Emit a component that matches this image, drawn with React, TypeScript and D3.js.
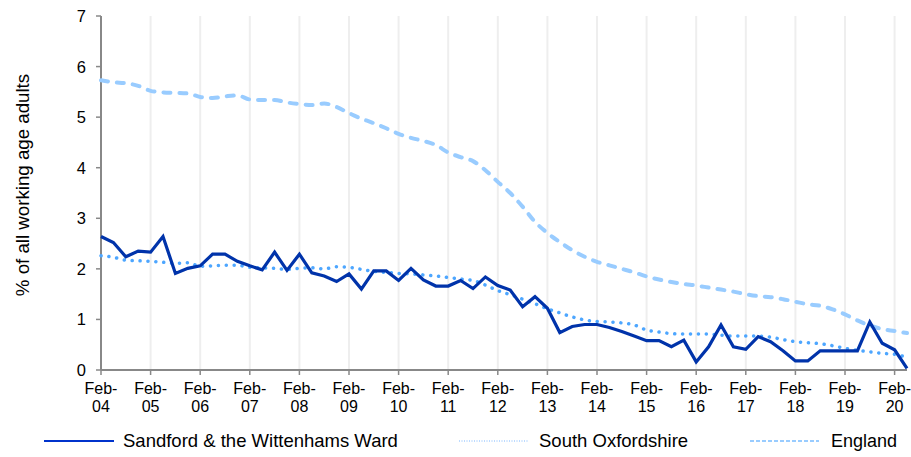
import React from "react";
import * as d3 from "d3";

const years = ["04","05","06","07","08","09","10","11","12","13","14","15","16","17","18","19","20"];
const yTicks = [0, 1, 2, 3, 4, 5, 6, 7];

const sandford = [2.64, 2.52, 2.24, 2.35, 2.33, 2.64, 1.91, 2.01, 2.06, 2.29, 2.29, 2.15, 2.06, 1.98, 2.33, 1.97, 2.29, 1.92, 1.86, 1.75, 1.90, 1.60, 1.96, 1.96, 1.77, 2.01, 1.78, 1.66, 1.66, 1.77, 1.61, 1.84, 1.67, 1.58, 1.25, 1.45, 1.22, 0.74, 0.86, 0.90, 0.90, 0.84, 0.76, 0.67, 0.58, 0.58, 0.46, 0.59, 0.16, 0.46, 0.89, 0.46, 0.41, 0.66, 0.56, 0.38, 0.18, 0.18, 0.38, 0.38, 0.38, 0.38, 0.95, 0.53, 0.40, 0.03];

const southOxfordshire = [2.26, 2.23, 2.17, 2.16, 2.15, 2.13, 2.11, 2.12, 2.05, 2.06, 2.07, 2.07, 2.03, 2.02, 2.01, 1.99, 2.01, 2.02, 2.00, 2.04, 2.03, 1.99, 1.95, 1.93, 1.91, 1.90, 1.88, 1.86, 1.83, 1.80, 1.77, 1.68, 1.57, 1.49, 1.40, 1.31, 1.21, 1.13, 1.05, 0.99, 0.96, 0.95, 0.93, 0.89, 0.79, 0.75, 0.72, 0.71, 0.71, 0.71, 0.69, 0.67, 0.67, 0.67, 0.65, 0.60, 0.56, 0.54, 0.52, 0.48, 0.43, 0.39, 0.36, 0.33, 0.31, 0.25];

const england = [5.73, 5.69, 5.67, 5.62, 5.52, 5.49, 5.48, 5.47, 5.40, 5.38, 5.41, 5.43, 5.35, 5.34, 5.34, 5.29, 5.26, 5.24, 5.27, 5.20, 5.08, 4.97, 4.88, 4.78, 4.67, 4.59, 4.53, 4.45, 4.30, 4.21, 4.13, 3.95, 3.72, 3.50, 3.23, 2.93, 2.71, 2.53, 2.37, 2.24, 2.14, 2.07, 2.00, 1.93, 1.85, 1.79, 1.74, 1.70, 1.67, 1.63, 1.59, 1.55, 1.50, 1.46, 1.44, 1.40, 1.35, 1.30, 1.27, 1.20, 1.10, 0.98, 0.88, 0.81, 0.77, 0.73];

const legendLabels = ["Sandford & the Wittenhams Ward", "South Oxfordshire", "England"];

const W = 911;
const H = 457;
const FONT = "'Liberation Sans', Arial, sans-serif";

export default function App() {
  const n = sandford.length;
  const x = d3.scaleLinear().domain([0, n - 1]).range([101, 907]);
  const y = d3.scaleLinear().domain([0, 7]).range([370, 16]);

  const linear = d3.line<number>().x((_, i) => x(i)).y((d) => y(d)).curve(d3.curveLinear);
  const smooth = d3.line<number>().x((_, i) => x(i)).y((d) => y(d)).curve(d3.curveMonotoneX);

  const axisColor = "#888888";

  return (
    <svg width={W} height={H} style={{ position: "absolute", left: 0, top: 0, background: "#fff" }} fontFamily={FONT}>
      {years.map((yr, k) => (
        <line key={"g" + yr} x1={x(k * 4)} x2={x(k * 4)} y1={y(7)} y2={y(0)} stroke="#eeeeee" strokeWidth={2} />
      ))}
      <line x1={101} x2={101} y1={y(7)} y2={y(0)} stroke={axisColor} strokeWidth={2} />
      {yTicks.map((t) => (
        <g key={"yt" + t}>
          <line x1={96} x2={101} y1={y(t)} y2={y(t)} stroke={axisColor} strokeWidth={1.5} />
          <text x={86} y={y(t)} dy="0.36em" textAnchor="end" fontSize={16.5} fill="#000">{t}</text>
        </g>
      ))}
      <line x1={101} x2={907} y1={y(0)} y2={y(0)} stroke={axisColor} strokeWidth={2} />
      {years.map((yr, k) => (
        <g key={"xt" + yr}>
          <line x1={x(k * 4)} x2={x(k * 4)} y1={y(0)} y2={y(0) + 5} stroke={axisColor} strokeWidth={1.5} />
          <text x={x(k * 4)} y={394} textAnchor="middle" fontSize={16} fill="#000">Feb-</text>
          <text x={x(k * 4)} y={412} textAnchor="middle" fontSize={16} fill="#000">{yr}</text>
        </g>
      ))}
      <text transform="translate(29,185) rotate(-90)" textAnchor="middle" fontSize={18.7} fill="#000">% of all working age adults</text>

      <path d={smooth(england) || ""} fill="none" stroke="#99ccff" strokeWidth={4} strokeDasharray="7 9" strokeLinecap="round" />
      <path d={smooth(southOxfordshire) || ""} fill="none" stroke="#4da6ff" strokeWidth={3.5} strokeDasharray="0.1 7.8" strokeLinecap="round" />
      <path d={linear(sandford) || ""} fill="none" stroke="#0033aa" strokeWidth={3.2} strokeLinejoin="miter" />

      <g>
        <line x1={44} x2={114} y1={441} y2={441} stroke="#0033cc" strokeWidth={2} />
        <text x={123} y={447} fontSize={18.5} fill="#000">{legendLabels[0]}</text>
        <line x1={459} x2={529} y1={441} y2={441} stroke="#a8d0ff" strokeWidth={1.5} strokeDasharray="1 1.5" />
        <text x={539} y={447} fontSize={18.5} fill="#000">{legendLabels[1]}</text>
        <line x1={750} x2={819} y1={441} y2={441} stroke="#99ccff" strokeWidth={2} strokeDasharray="4 2" />
        <text x={831} y={447} fontSize={18} fill="#000">{legendLabels[2]}</text>
      </g>
    </svg>
  );
}
